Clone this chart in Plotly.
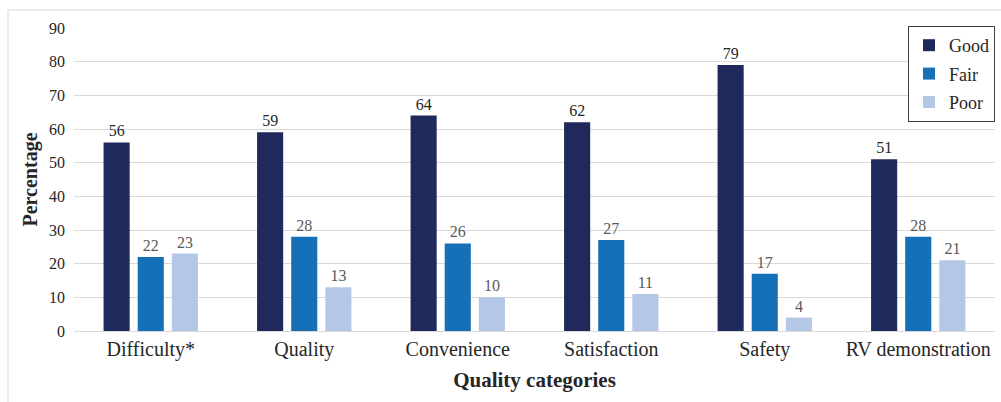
import plotly.graph_objects as go

categories = ["Difficulty*", "Quality", "Convenience", "Satisfaction", "Safety", "RV demonstration"]
good = [56, 59, 64, 62, 79, 51]
fair = [22, 28, 26, 27, 17, 28]
poor = [23, 13, 10, 11, 4, 21]
y_ticks = [0, 10, 20, 30, 40, 50, 60, 70, 80, 90]

W, H = 1001, 402
ML, MR, MT, MB = 74, 6, 28, 71
FONT = "'Liberation Serif', 'Times New Roman', Times, serif"

series = [
    ("Good", good, "#1F295C", "#262626"),
    ("Fair", fair, "#1570B8", "#595959"),
    ("Poor", poor, "#B4C7E7", "#595959"),
]

fig = go.Figure()
for name, vals, color, tcolor in series:
    fig.add_trace(go.Bar(
        name=name, x=categories, y=vals, legendgroup=name,
        marker=dict(color=color, line=dict(width=0)),
        text=[str(v) for v in vals], textposition="outside",
        textfont=dict(family=FONT, size=16, color=tcolor),
        cliponaxis=False,
    ))

# outer light frame around the chart
px2x = lambda px: (px - ML) / (W - ML - MR)
px2y = lambda py: (H - MB - py) / (H - MT - MB)
fig.add_shape(type="rect", xref="paper", yref="paper",
              x0=px2x(8), x1=px2x(1010), y0=px2y(10), y1=px2y(410),
              line=dict(color="#D9D9D9", width=1), layer="below")

fig.update_layout(
    width=W, height=H,
    margin=dict(l=ML, r=MR, t=MT, b=MB),
    paper_bgcolor="white", plot_bgcolor="white",
    barmode="group", bargap=0.333, bargroupgap=0.235,
    font=dict(family=FONT, size=16, color="#262626"),
    showlegend=True,
    legend=dict(
        x=px2x(908), y=px2y(26), xanchor="left", yanchor="top",
        bordercolor="#404040", borderwidth=1, bgcolor="white",
        font=dict(family=FONT, size=18, color="#262626"),
        itemwidth=30, tracegroupgap=2,
    ),
    xaxis=dict(
        showline=True, linecolor="#D9D9D9", linewidth=1,
        ticks="", tickfont=dict(family=FONT, size=20, color="#262626"),
        title=dict(text="<b>Quality categories</b>", font=dict(family=FONT, size=21, color="#262626"), standoff=12),
    ),
    yaxis=dict(
        range=[0, 90], tickvals=y_ticks, showgrid=True, gridcolor="#D9D9D9", gridwidth=1,
        zeroline=False, ticks="", ticklabelstandoff=8,
        tickfont=dict(family=FONT, size=16, color="#262626"),
        title=dict(text="<b>Percentage</b>", font=dict(family=FONT, size=20, color="#262626"), standoff=6),
    ),
)

fig.write_html("out.html")
